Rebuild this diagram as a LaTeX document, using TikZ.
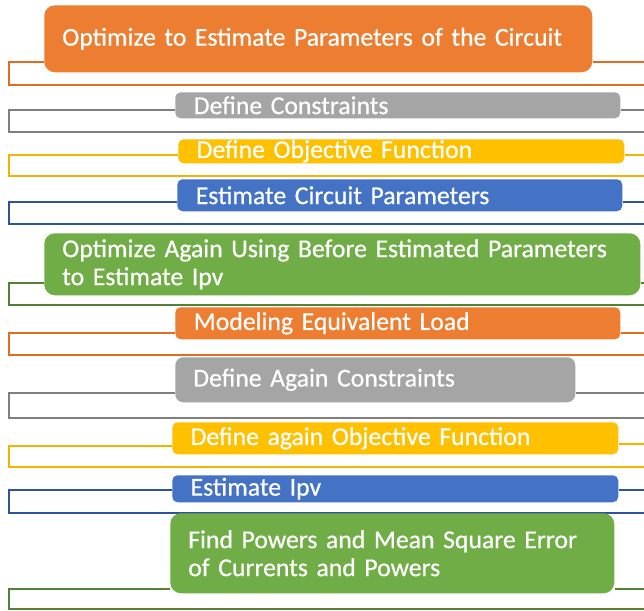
\documentclass[tikz,border=0pt]{standalone}
\usepackage{fontspec}
\setmainfont[FakeBold=0.6,WordSpace=0.75]{Carlito}
\pgfdeclarelayer{back}
\pgfdeclarelayer{bg}
\pgfsetlayers{back,bg,main}
\definecolor{cOr}{HTML}{ED7D31}
\definecolor{cGr}{HTML}{A5A5A5}
\definecolor{cYe}{HTML}{FFC000}
\definecolor{cBl}{HTML}{4472C4}
\definecolor{cGn}{HTML}{70AD47}
\definecolor{lOr}{HTML}{E06E22}
\definecolor{lGr}{HTML}{7F7F7F}
\definecolor{lYe}{HTML}{F2B400}
\definecolor{lBl}{HTML}{2F5597}
\definecolor{lGn}{HTML}{548235}
\newcommand\myconn[5]{%
  \begin{pgfonlayer}{bg}
  \draw[ln,#2] (#1.west |- 0,#3) -- (9,#3) -- (9,#4) -- (644,#4);
  \draw[ln,#2] (#1.east |- 0,#5) -- (644,#5);
  \end{pgfonlayer}}
\begin{document}
\begin{tikzpicture}[x=0.75pt,y=-0.75pt,
  box/.style={anchor=north west,rounded corners=#1,inner xsep=13.5pt,inner ysep=0pt,
    align=left,text=white,font=\fontsize{19.3}{21}\selectfont},
  box/.default=4pt,
  ln/.style={line width=1.3pt}]
\useasboundingbox (0,0) rectangle (644,611);
\begin{pgfonlayer}{back}
\fill[white] (0,0) rectangle (644,611);
\end{pgfonlayer}
\node[box=8pt,fill=cOr,minimum width=411pt,minimum height=50.25pt,text width=384pt] (b1) at (44,5) {Optimize to Estimate Parameters of the Circuit};
\node[box,fill=cGr,minimum width=333.75pt,minimum height=19.5pt,text width=306pt] (b2) at (175,92) {Define Constraints};
\node[box,fill=cYe,minimum width=334.5pt,minimum height=18pt,text width=307pt] (b3) at (178,139) {Define Objective Function};
\node[box,fill=cBl,minimum width=333.75pt,minimum height=24pt,text width=306pt] (b4) at (177,179) {Estimate Circuit Parameters};
\node[box=8pt,fill=cGn,minimum width=444pt,minimum height=46.5pt,text width=420pt] (b5) at (44,233) {Optimize Again Using Before Estimated Parameters\\to Estimate Ipv};
\node[box,fill=cOr,minimum width=333.75pt,minimum height=24pt,text width=306pt] (b6) at (175,307) {Modeling Equivalent Load};
\node[box=6pt,fill=cGr,minimum width=300pt,minimum height=33.75pt,text width=273pt] (b7) at (175,357) {Define Again Constraints};
\node[box,fill=cYe,minimum width=334.5pt,minimum height=24pt,text width=307pt] (b8) at (172,422) {Define again Objective Function};
\node[box,fill=cBl,minimum width=334.5pt,minimum height=20.25pt,text width=307pt] (b9) at (172,475) {Estimate Ipv};
\node[box=8pt,fill=cGn,minimum width=333pt,minimum height=60pt,text width=306pt] (b10) at (170,513) {Find Powers and Mean Square Error\\of Currents and Powers};
\myconn{b1}{lOr}{62}{85}{62}
\myconn{b2}{lGr}{110}{132}{110}
\myconn{b3}{lYe}{155}{176}{155}
\myconn{b4}{lBl}{202}{224}{202}
\myconn{b5}{lGn}{283}{305}{283}
\myconn{b6}{lOr}{333}{355}{333}
\myconn{b7}{lGr}{393}{418}{393}
\myconn{b8}{lYe}{446}{467}{444}
\myconn{b9}{lBl}{490}{513}{490}
\myconn{b10}{lGn}{589}{609}{589}
\end{tikzpicture}
\end{document}
